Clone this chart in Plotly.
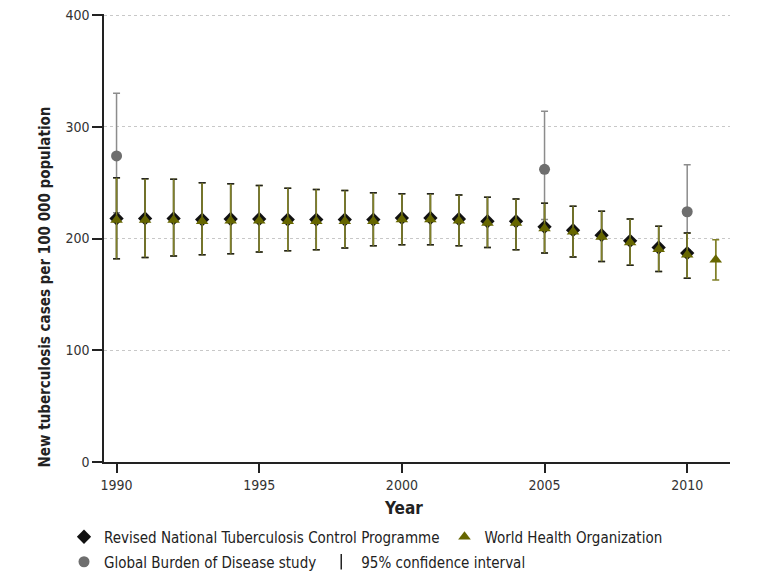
import plotly.graph_objects as go

# ---------------- data ----------------
rntcp_years = list(range(1990, 2011))
rntcp_values = [218, 218, 218, 217, 217.5, 217.5, 217, 217, 217, 217, 218.5, 218.5,
                217.5, 215.5, 215.5, 210.5, 207.5, 203, 198, 192, 187]
rntcp_lower = [182, 183, 184.5, 185.5, 186.5, 188, 189, 190, 191.5, 193.5, 194.5, 194.5,
               193.5, 192, 190, 187, 183.5, 179.5, 176, 170.5, 164.5]
rntcp_upper = [254.5, 253.5, 253, 250, 249, 247.5, 245, 244, 243, 241, 240, 240,
               239, 237, 235.5, 231.5, 229, 224.5, 217.5, 211, 205]

who_years = list(range(1990, 2012))
who_values = [216.5, 216.5, 216.5, 215.5, 216, 216, 215.5, 215.5, 215.5, 215.5, 217, 217,
              216, 214, 214, 209, 206, 201.5, 196.5, 190.5, 185.5, 181]
who_lower = rntcp_lower + [163]
who_upper = rntcp_upper + [199]

gbd_years = [1990, 2005, 2010]
gbd_values = [274, 262, 224]
gbd_lower = [223, 217, 190]
gbd_upper = [330, 314, 266]

x_ticks = [1990, 1995, 2000, 2005, 2010]
y_ticks = [0, 100, 200, 300, 400]

FONT = "DejaVu Sans Condensed, Liberation Sans Narrow, Arial Narrow, sans-serif"
OLIVE = "#666600"
OLIVE_STEM = "#808028"
GREY_PT = "#6e6e6e"
GREY_BAR = "#8c8c8c"


def plus(vals, up):
    return [u - v for v, u in zip(vals, up)]


def minus(vals, lo):
    return [v - l for v, l in zip(vals, lo)]


fig = go.Figure()

# GBD
fig.add_trace(go.Scatter(
    x=gbd_years, y=gbd_values, mode="markers", name="Global Burden of Disease study",
    marker=dict(symbol="circle", size=11, color=GREY_PT),
    error_y=dict(type="data", array=plus(gbd_values, gbd_upper),
                 arrayminus=minus(gbd_values, gbd_lower),
                 color=GREY_BAR, thickness=1.5, width=3.5),
    legend="legend2", legendrank=1,
))

# WHO error bars with caps (underneath)
fig.add_trace(go.Scatter(
    x=who_years, y=who_values, mode="markers", showlegend=False, hoverinfo="skip",
    marker=dict(symbol="triangle-up", size=11, color=OLIVE, opacity=0),
    error_y=dict(type="data", array=plus(who_values, who_upper),
                 arrayminus=minus(who_values, who_lower),
                 color=OLIVE_STEM, thickness=1.5, width=3.5),
))

# RNTCP
fig.add_trace(go.Scatter(
    x=rntcp_years, y=rntcp_values, mode="markers",
    name="Revised National Tuberculosis Control Programme",
    marker=dict(symbol="diamond", size=11, color="#111111"),
    error_y=dict(type="data", array=plus(rntcp_values, rntcp_upper),
                 arrayminus=minus(rntcp_values, rntcp_lower),
                 color="#222222", thickness=1.5, width=3.5),
    legend="legend", legendrank=1,
))

# WHO markers + stems on top
fig.add_trace(go.Scatter(
    x=who_years, y=who_values, mode="markers", name="World Health Organization",
    marker=dict(symbol="triangle-up", size=11, color=OLIVE),
    error_y=dict(type="data", array=plus(who_values, who_upper),
                 arrayminus=minus(who_values, who_lower),
                 color=OLIVE_STEM, thickness=1.5, width=0),
    legend="legend", legendrank=2,
))

# legend entry for the confidence interval
fig.add_trace(go.Scatter(
    x=[None], y=[None], mode="markers", name="95% confidence interval",
    marker=dict(symbol="line-ns", size=11, color="#222222",
                line=dict(width=1.5, color="#222222")),
    legend="legend2", legendrank=2,
))

legend_common = dict(orientation="h", xanchor="left", yanchor="middle",
                     xref="container", yref="container",
                     font=dict(family=FONT, size=15, color="#222222"),
                     itemwidth=30, tracegroupgap=0, bgcolor="rgba(0,0,0,0)",
                     borderwidth=0)

fig.update_layout(
    width=771, height=580,
    margin=dict(l=104, r=41, t=14, b=118, autoexpand=False),
    paper_bgcolor="white", plot_bgcolor="white",
    font=dict(family=FONT, size=14, color="#222222"),
    showlegend=True,
    legend=dict(x=64 / 771, y=1 - 537 / 580, **legend_common),
    legend2=dict(x=64 / 771, y=1 - 562 / 580, **legend_common),
    xaxis=dict(range=[1989.56, 2011.5], tickvals=x_ticks, ticktext=[str(t) for t in x_ticks],
               showline=True, linecolor="#222222", linewidth=1.5,
               ticks="outside", ticklen=9, tickwidth=1.5, tickcolor="#222222",
               showgrid=False, zeroline=False,
               tickfont=dict(family=FONT, size=14, color="#333333")),
    yaxis=dict(range=[0, 401], tickvals=y_ticks, ticktext=[str(t) for t in y_ticks],
               showline=True, linecolor="#222222", linewidth=1.5,
               ticks="outside", ticklen=10, tickwidth=1.5, tickcolor="#222222",
               showgrid=True, gridcolor="#c8c8c8", griddash="dot", gridwidth=1,
               zeroline=False,
               tickfont=dict(family=FONT, size=14, color="#333333")),
    annotations=[
        dict(text="<b>New tuberculosis cases per 100 000 population</b>",
             xref="paper", yref="paper", x=-0.094, y=0.39, textangle=-90,
             showarrow=False, xanchor="center", yanchor="middle",
             font=dict(family=FONT, size=15, color="#222222")),
        dict(text="<b>Year</b>", xref="paper", yref="paper", x=0.478,
             y=(462 - 508) / 448, showarrow=False, xanchor="center", yanchor="middle",
             font=dict(family=FONT, size=17, color="#222222")),
    ],
)

fig.write_html("out.html", config={"displayModeBar": False},
               post_script="document.body.style.margin='0';document.body.style.padding='0';")
